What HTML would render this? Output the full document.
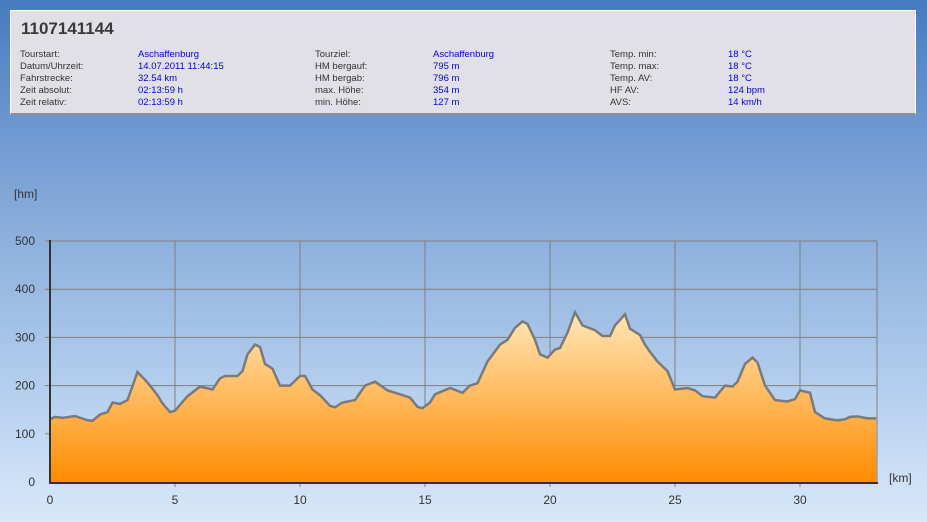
<!DOCTYPE html><html><head><meta charset="utf-8"><style>
body{margin:0;width:927px;height:522px;overflow:hidden;background:linear-gradient(#467bbf 0%,#7ea4d6 35%,#b5cfee 75%,#d9e8f9 100%);font-family:"Liberation Sans",sans-serif;position:relative}
#hd{position:absolute;left:10px;top:10px;width:904px;height:102px;background:#e1e0e6;border:1px solid #fff;border-bottom:2px solid #8a8f9a}
#hd h1{position:absolute;left:10px;top:8px;margin:0;font-size:17px;font-weight:bold;color:#3a3a3a}
.r{position:absolute;font-size:9.5px;line-height:12px;color:#333;white-space:nowrap}
.b{color:#0000ee}
</style></head><body>
<div id="hd"><h1>1107141144</h1>
<div class="r" style="left:9px;top:38px">Tourstart:<br>Datum/Uhrzeit:<br>Fahrstrecke:<br>Zeit absolut:<br>Zeit relativ:</div>
<div class="r b" style="left:127px;top:38px">Aschaffenburg<br>14.07.2011 11:44:15<br>32.54 km<br>02:13:59 h<br>02:13:59 h</div>
<div class="r" style="left:304px;top:38px">Tourziel:<br>HM bergauf:<br>HM bergab:<br>max. Höhe:<br>min. Höhe:</div>
<div class="r b" style="left:422px;top:38px">Aschaffenburg<br>795 m<br>796 m<br>354 m<br>127 m</div>
<div class="r" style="left:599px;top:38px">Temp. min:<br>Temp. max:<br>Temp. AV:<br>HF AV:<br>AVS:</div>
<div class="r b" style="left:717px;top:38px">18 °C<br>18 °C<br>18 °C<br>124 bpm<br>14 km/h</div>
</div>
<svg width="927" height="522" style="position:absolute;left:0;top:0" font-family="Liberation Sans, sans-serif" font-size="12" fill="#333">
<defs><linearGradient id="g" x1="0" y1="0" x2="0" y2="1"><stop offset="0" stop-color="#ffe6b8"/><stop offset="1" stop-color="#ff8c00"/></linearGradient></defs>
<text x="14" y="198">[hm]</text>
<text x="889" y="482">[km]</text>
<g id="grid" stroke="#808080" stroke-width="1"></g>
<path id="area" fill="url(#g)"/>
<path id="line" fill="none" stroke="#7a7a7a" stroke-width="2.5"/>
<line x1="50" y1="240" x2="50" y2="483" stroke="#333" stroke-width="2"/>
<line x1="49" y1="483" x2="878" y2="483" stroke="#333" stroke-width="2"/>
<g id="lab"></g>
</svg>
<script>
var d=[[0,130],[0.2,135],[0.5,133],[1,137],[1.5,128],[1.7,127],[2,140],[2.3,145],[2.5,165],[2.8,162],[3.1,170],[3.5,228],[3.8,212],[4,200],[4.3,180],[4.5,163],[4.8,145],[5,148],[5.5,178],[6,198],[6.5,192],[6.8,215],[7,220],[7.5,220],[7.7,230],[7.9,265],[8.2,285],[8.4,280],[8.6,245],[8.9,235],[9.2,200],[9.6,200],[10,220],[10.2,220],[10.5,192],[10.8,180],[11.2,158],[11.4,155],[11.7,165],[12.2,170],[12.6,200],[13,208],[13.5,190],[14,182],[14.4,175],[14.7,156],[14.9,153],[15.2,165],[15.4,182],[16,195],[16.5,185],[16.8,200],[17.1,205],[17.5,250],[18,285],[18.3,295],[18.6,320],[18.9,333],[19.1,328],[19.4,295],[19.6,265],[19.9,258],[20.2,275],[20.4,278],[20.7,310],[21,352],[21.3,325],[21.8,315],[22.1,303],[22.4,303],[22.6,325],[23,348],[23.2,318],[23.6,305],[23.8,285],[24,270],[24.3,250],[24.7,230],[25,192],[25.5,195],[25.8,190],[26.1,178],[26.6,175],[27,200],[27.3,198],[27.5,208],[27.8,245],[28.1,258],[28.3,248],[28.6,200],[29,170],[29.5,167],[29.8,172],[30,190],[30.4,185],[30.6,145],[31,132],[31.5,128],[31.8,130],[32,135],[32.3,136],[32.7,132],[33.05,132]];
function X(k){return 50+k*25}function Y(v){return 482-v*0.482}
var p=d.map(function(a,i){return(i?'L':'M')+X(a[0]).toFixed(1)+' '+Y(a[1]).toFixed(1)}).join('');
document.getElementById('line').setAttribute('d',p);
document.getElementById('area').setAttribute('d',p+'L'+X(33.05)+' 482L50 482Z');
var g='',l='';
for(var v=100;v<=500;v+=100){var y=Y(v).toFixed(1);g+='<line x1="45" y1="'+y+'" x2="877" y2="'+y+'"/>';}
for(var k=5;k<=30;k+=5)g+='<line x1="'+X(k)+'" y1="241" x2="'+X(k)+'" y2="487"/>';
g+='<line x1="877" y1="241" x2="877" y2="482"/>';
document.getElementById('grid').innerHTML=g;
for(var v=0;v<=500;v+=100)l+='<text x="35" y="'+(Y(v)+4)+'" text-anchor="end">'+v+'</text>';
for(var k=0;k<=30;k+=5)l+='<text x="'+X(k)+'" y="504" text-anchor="middle">'+k+'</text>';
document.getElementById('lab').innerHTML=l;
</script>
</body></html>
